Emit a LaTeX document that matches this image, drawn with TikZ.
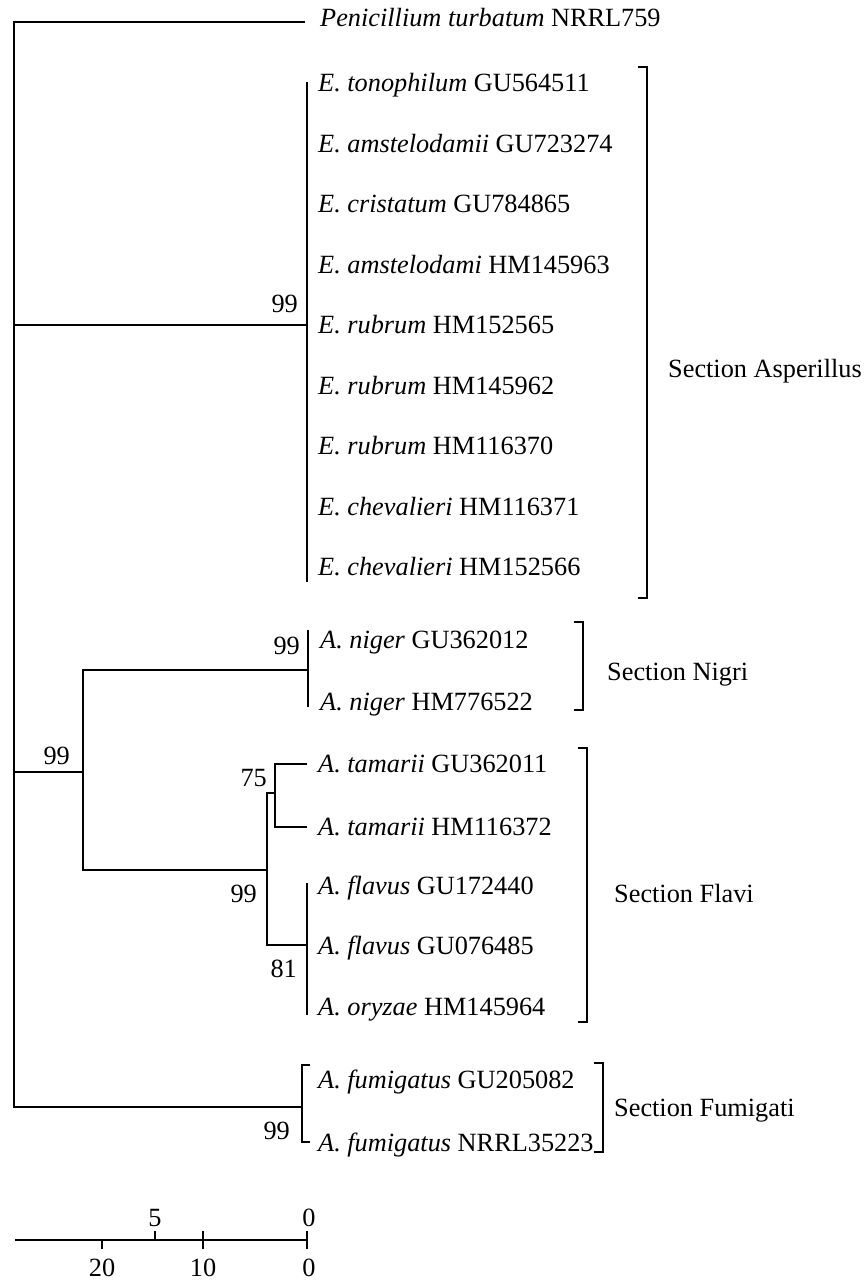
\documentclass[tikz,border=0pt]{standalone}
\usepackage{fontspec}
\setmainfont{Liberation Serif}
\newcommand{\treefont}{\fontsize{26.3}{30}\selectfont}
\begin{document}
\begin{tikzpicture}[x=1pt,y=-1pt,
  branch/.style={line width=2pt, line join=miter},
  leaf/.style={anchor=base west, inner sep=0pt, font=\treefont},
  boot/.style={anchor=base east, inner sep=0pt, font=\treefont},
  sect/.style={anchor=base west, inner sep=0pt, font=\treefont},
  scalelab/.style={anchor=base, inner sep=0pt, font=\treefont}]
\useasboundingbox[fill=white] (0,0) rectangle (866,1283);

% ---- internal node coordinates ----
\coordinate (pen) at (305,22);
\coordinate (rtop) at (14,22);
\coordinate (rbot) at (14,1107);
\coordinate (fum) at (302,1107);
\coordinate (rasp) at (14,325);
\coordinate (asp) at (307,325);
\coordinate (asptop) at (307,82);
\coordinate (aspbot) at (307,582);
\coordinate (rasg) at (14,772);
\coordinate (asg) at (83,772);
\coordinate (asgtop) at (83,670);
\coordinate (asgbot) at (83,870);
\coordinate (nig) at (308,670);
\coordinate (nigtop) at (308,630);
\coordinate (nigbot) at (308,707);
\coordinate (fla) at (267,870);
\coordinate (flatop) at (267,793);
\coordinate (flabot) at (267,945);
\coordinate (tam) at (275,793);
\coordinate (tamtop) at (275,764);
\coordinate (tambot) at (275,827);
\coordinate (tamA) at (307,764);
\coordinate (tamB) at (307,827);
\coordinate (flv) at (307,945);
\coordinate (flvtop) at (307,883);
\coordinate (flvbot) at (307,1015);
\coordinate (fumtop) at (302,1065);
\coordinate (fumbot) at (302,1142);
\coordinate (fumA) at (310,1065);
\coordinate (fumB) at (310,1142);

% ---- branches ----
\draw[branch] (pen) -- (rtop) -- (rbot) -- (fum);
\draw[branch] (rasp) -- (asp);
\draw[branch] (asptop) -- (aspbot);
\draw[branch] (rasg) -- (asg);
\draw[branch] (nig) -- (asgtop) -- (asgbot) -- (fla);
\draw[branch] (nigtop) -- (nigbot);
\draw[branch] (tam) -- (flatop) -- (flabot) -- (flv);
\draw[branch] (tamA) -- (tamtop) -- (tambot) -- (tamB);
\draw[branch] (flvtop) -- (flvbot);
\draw[branch] (fumA) -- (fumtop) -- (fumbot) -- (fumB);

% ---- leaves ----
\node[leaf] (l0) at (320,26) {\textit{Penicillium turbatum} NRRL759};
\node[leaf] (l1) at (318,91.7) {\textit{E. tonophilum} GU564511};
\node[leaf] (l2) at (318,152.2) {\textit{E. amstelodamii} GU723274};
\node[leaf] (l3) at (318,212.7) {\textit{E. cristatum} GU784865};
\node[leaf] (l4) at (318,273.2) {\textit{E. amstelodami} HM145963};
\node[leaf] (l5) at (318,333.7) {\textit{E. rubrum} HM152565};
\node[leaf] (l6) at (318,394.2) {\textit{E. rubrum} HM145962};
\node[leaf] (l7) at (318,454.7) {\textit{E. rubrum} HM116370};
\node[leaf] (l8) at (318,515.2) {\textit{E. chevalieri} HM116371};
\node[leaf] (l9) at (318,575.7) {\textit{E. chevalieri} HM152566};
\node[leaf] (l10) at (320,648.7) {\textit{A. niger} GU362012};
\node[leaf] (l11) at (320,710.7) {\textit{A. niger} HM776522};
\node[leaf] (l12) at (318,772.7) {\textit{A. tamarii} GU362011};
\node[leaf] (l13) at (318,835.7) {\textit{A. tamarii} HM116372};
\node[leaf] (l14) at (318,894.7) {\textit{A. flavus} GU172440};
\node[leaf] (l15) at (318,954.7) {\textit{A. flavus} GU076485};
\node[leaf] (l16) at (318,1015.7) {\textit{A. oryzae} HM145964};
\node[leaf] (l17) at (318,1088.7) {\textit{A. fumigatus} GU205082};
\node[leaf] (l18) at (318,1151.7) {\textit{A. fumigatus} NRRL35223};

% ---- bootstrap values ----
\node[boot] (b1) at (298,312) {99};
\node[boot] (b2) at (300,654) {99};
\node[boot] (b3) at (70,764) {99};
\node[boot] (b4) at (267,786) {75};
\node[boot] (b5) at (257,902) {99};
\node[boot] (b6) at (297,977) {81};
\node[boot] (b7) at (290,1139) {99};

% ---- section brackets ----
\coordinate (brA1) at (638,67);  \coordinate (brA2) at (647,67);
\coordinate (brA3) at (647,598); \coordinate (brA4) at (638,598);
\draw[branch] (brA1) -- (brA2) -- (brA3) -- (brA4);
\coordinate (brN1) at (574,622);  \coordinate (brN2) at (583,622);
\coordinate (brN3) at (583,710);  \coordinate (brN4) at (574,710);
\draw[branch] (brN1) -- (brN2) -- (brN3) -- (brN4);
\coordinate (brF1) at (578,748);  \coordinate (brF2) at (587,748);
\coordinate (brF3) at (587,1022); \coordinate (brF4) at (578,1022);
\draw[branch] (brF1) -- (brF2) -- (brF3) -- (brF4);
\coordinate (brU1) at (594,1063);  \coordinate (brU2) at (603,1063);
\coordinate (brU3) at (603,1152);  \coordinate (brU4) at (594,1152);
\draw[branch] (brU1) -- (brU2) -- (brU3) -- (brU4);

\node[sect] (sA) at (668,377) {Section Asperillus};
\node[sect] (sN) at (607,680) {Section Nigri};
\node[sect] (sF) at (614,902) {Section Flavi};
\node[sect] (sU) at (614,1116) {Section Fumigati};

% ---- scale bar ----
\coordinate (sb0) at (15,1240);
\coordinate (sb1) at (307,1240);
\draw[branch] (sb0) -- (sb1);
\draw[branch] (102,1240) -- (102,1249);
\draw[branch] (155,1231) -- (155,1240);
\draw[branch] (203,1231) -- (203,1249);
\draw[branch] (307,1231) -- (307,1249);
\node[scalelab] (t5) at (155,1226) {5};
\node[scalelab] (t0) at (309,1226) {0};
\node[scalelab] (u20) at (102,1276) {20};
\node[scalelab] (u10) at (203,1276) {10};
\node[scalelab] (u0) at (309,1276) {0};
\end{tikzpicture}
\end{document}
